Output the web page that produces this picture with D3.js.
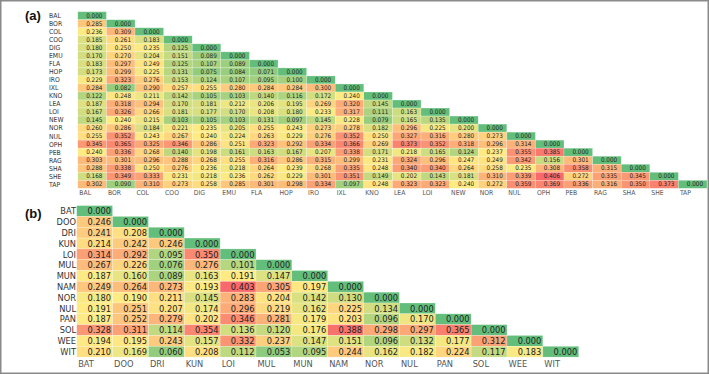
<!DOCTYPE html>
<html>
<head>
<meta charset="utf-8">
<script src="https://cdn.jsdelivr.net/npm/d3@7"></script>
<style>
  body { margin: 0; background: #fff; }
  svg { display: block; font-family: "Liberation Sans Narrow", "Arial Narrow", "DejaVu Sans Condensed", sans-serif; }
</style>
</head>
<body>
<div id="graphicContainer"></div>
<script>

// panel (a) populations
const popsA = ["BAL", "BOR", "COL", "COO", "DIG", "EMU", "FLA", "HOP", "IRO", "IXL", "KNO",
  "LEA", "LOI", "NEW", "NOR", "NUL", "OPH", "PEB", "RAG", "SHA", "SHE", "TAP"]

const valuesA = [
  [0.000],
  [0.285, 0.000],
  [0.236, 0.309, 0.000],
  [0.185, 0.261, 0.183, 0.000],
  [0.180, 0.250, 0.235, 0.125, 0.000],
  [0.170, 0.270, 0.204, 0.151, 0.089, 0.000],
  [0.183, 0.297, 0.249, 0.125, 0.107, 0.089, 0.000],
  [0.173, 0.299, 0.225, 0.131, 0.075, 0.084, 0.071, 0.000],
  [0.229, 0.323, 0.276, 0.153, 0.124, 0.107, 0.095, 0.100, 0.000],
  [0.284, 0.082, 0.290, 0.257, 0.255, 0.280, 0.284, 0.284, 0.300, 0.000],
  [0.122, 0.248, 0.211, 0.142, 0.105, 0.103, 0.140, 0.116, 0.172, 0.240, 0.000],
  [0.187, 0.318, 0.294, 0.170, 0.181, 0.212, 0.206, 0.195, 0.269, 0.320, 0.145, 0.000],
  [0.167, 0.326, 0.266, 0.181, 0.177, 0.170, 0.208, 0.180, 0.233, 0.317, 0.111, 0.163, 0.000],
  [0.145, 0.240, 0.215, 0.103, 0.105, 0.103, 0.131, 0.097, 0.145, 0.228, 0.079, 0.165, 0.135, 0.000],
  [0.260, 0.286, 0.184, 0.221, 0.235, 0.205, 0.255, 0.243, 0.273, 0.278, 0.182, 0.296, 0.225, 0.200, 0.000],
  [0.255, 0.352, 0.243, 0.267, 0.240, 0.224, 0.263, 0.229, 0.276, 0.352, 0.250, 0.327, 0.316, 0.280, 0.273, 0.000],
  [0.345, 0.365, 0.325, 0.346, 0.286, 0.251, 0.323, 0.292, 0.334, 0.366, 0.269, 0.373, 0.352, 0.318, 0.296, 0.314, 0.000],
  [0.240, 0.336, 0.268, 0.140, 0.198, 0.161, 0.163, 0.167, 0.207, 0.338, 0.171, 0.218, 0.165, 0.124, 0.237, 0.355, 0.385, 0.000],
  [0.303, 0.301, 0.296, 0.288, 0.268, 0.255, 0.316, 0.286, 0.315, 0.299, 0.231, 0.324, 0.296, 0.247, 0.249, 0.342, 0.156, 0.301, 0.000],
  [0.288, 0.338, 0.250, 0.276, 0.236, 0.218, 0.264, 0.239, 0.268, 0.335, 0.248, 0.340, 0.340, 0.264, 0.258, 0.235, 0.308, 0.358, 0.315, 0.000],
  [0.168, 0.349, 0.333, 0.231, 0.218, 0.236, 0.262, 0.229, 0.301, 0.351, 0.149, 0.202, 0.143, 0.181, 0.310, 0.339, 0.406, 0.272, 0.335, 0.345, 0.000],
  [0.302, 0.090, 0.310, 0.273, 0.258, 0.285, 0.301, 0.298, 0.334, 0.097, 0.248, 0.323, 0.323, 0.240, 0.272, 0.359, 0.369, 0.336, 0.316, 0.350, 0.373, 0.000]
]

// panel (b) populations
const popsB = ["BAT", "DOO", "DRI", "KUN", "LOI", "MUL", "MUN", "NAM", "NOR", "NUL", "PAN", "SOL", "WEE", "WIT"]

const valuesB = [
  [0.000],
  [0.246, 0.000],
  [0.241, 0.208, 0.000],
  [0.214, 0.242, 0.246, 0.000],
  [0.314, 0.292, 0.095, 0.350, 0.000],
  [0.267, 0.226, 0.076, 0.276, 0.101, 0.000],
  [0.187, 0.160, 0.089, 0.163, 0.191, 0.147, 0.000],
  [0.249, 0.264, 0.273, 0.193, 0.403, 0.305, 0.197, 0.000],
  [0.180, 0.190, 0.211, 0.145, 0.283, 0.204, 0.142, 0.130, 0.000],
  [0.191, 0.251, 0.207, 0.174, 0.296, 0.219, 0.162, 0.225, 0.134, 0.000],
  [0.187, 0.252, 0.279, 0.202, 0.346, 0.281, 0.179, 0.203, 0.096, 0.170, 0.000],
  [0.328, 0.311, 0.114, 0.354, 0.136, 0.120, 0.176, 0.388, 0.298, 0.297, 0.365, 0.000],
  [0.194, 0.195, 0.243, 0.157, 0.332, 0.237, 0.147, 0.151, 0.096, 0.132, 0.177, 0.312, 0.000],
  [0.210, 0.169, 0.060, 0.208, 0.112, 0.053, 0.095, 0.244, 0.162, 0.182, 0.224, 0.117, 0.183, 0.000]
]

const width = 709
const height = 374

const svg = d3.select("#graphicContainer").append("svg")
  .attr("width", width)
  .attr("height", height)

// excel style 3 colour scale, green - yellow - red
function colourScale(rows) {
  const all = rows.flat()
  return d3.scaleLinear()
    .domain([d3.min(all), d3.median(all), d3.max(all)])
    .range(["#63BE7B", "#FFEB84", "#F8696B"])
}

function drawMatrix(opts) {

  const { pops, values, left, right, top, bottom, fontSize, labelSize, rowLabelX, rowAnchor, colLabelY, padRight, label, labelY } = opts

  const x = d3.scaleBand().domain(pops).range([left, right])
  const y = d3.scaleBand().domain(pops).range([top, bottom])
  const colour = colourScale(values)

  const cells = []
  values.forEach((row, i) => {
    row.forEach((v, j) => {
      cells.push({ row: pops[i], col: pops[j], value: v })
    })
  })

  const g = svg.append("g")

  g.selectAll("rect")
    .data(cells)
    .enter()
    .append("rect")
    .attr("x", d => x(d.col))
    .attr("y", d => y(d.row))
    .attr("width", x.bandwidth())
    .attr("height", y.bandwidth())
    .attr("fill", d => colour(d.value))
    .attr("stroke", "rgba(255,255,255,0.45)")
    .attr("stroke-width", 0.5)

  g.selectAll(".val")
    .data(cells)
    .enter()
    .append("text")
    .attr("class", "val")
    .attr("x", d => x(d.col) + x.bandwidth() - padRight)
    .attr("y", d => y(d.row) + y.bandwidth() / 2)
    .attr("dy", "0.35em")
    .attr("text-anchor", "end")
    .attr("font-size", fontSize)
    .attr("fill", "#222")
    .text(d => d.value.toFixed(3))

  // row labels
  g.selectAll(".rowLab")
    .data(pops)
    .enter()
    .append("text")
    .attr("class", "rowLab")
    .attr("x", rowLabelX)
    .attr("y", d => y(d) + y.bandwidth() / 2)
    .attr("dy", "0.35em")
    .attr("text-anchor", rowAnchor)
    .attr("font-size", labelSize)
    .attr("fill", "#333")
    .text(d => d)

  // column labels
  g.selectAll(".colLab")
    .data(pops)
    .enter()
    .append("text")
    .attr("class", "colLab")
    .attr("x", d => x(d) + 1.5)
    .attr("y", colLabelY)
    .attr("dy", "0.35em")
    .attr("font-size", labelSize)
    .attr("fill", "#555")
    .text(d => d)

  svg.append("text")
    .attr("x", 25)
    .attr("y", labelY)
    .attr("font-family", "Liberation Sans, Arial, sans-serif")
    .attr("font-weight", "bold")
    .attr("font-size", 13)
    .attr("fill", "#111")
    .text(label)

}

drawMatrix({
  pops: popsA, values: valuesA,
  left: 77.8, right: 707, top: 11.7, bottom: 188.3,
  fontSize: 6.3, labelSize: 6.8, rowLabelX: 49, rowAnchor: "start",
  colLabelY: 192.5, padRight: 4, label: "(a)", labelY: 20
})

drawMatrix({
  pops: popsB, values: valuesB,
  left: 76.7, right: 578.7, top: 205.6, bottom: 357.1,
  fontSize: 9.2, labelSize: 9.2, rowLabelX: 76, rowAnchor: "end",
  colLabelY: 363.5, padRight: 1.5, label: "(b)", labelY: 218
})

// outer frame
svg.append("rect")
  .attr("x", 0.75)
  .attr("y", 0.75)
  .attr("width", width - 1.5)
  .attr("height", height - 1.5)
  .attr("fill", "none")
  .attr("stroke", "#8a8a8a")
  .attr("stroke-width", 1.5)

</script>
</body>
</html>
